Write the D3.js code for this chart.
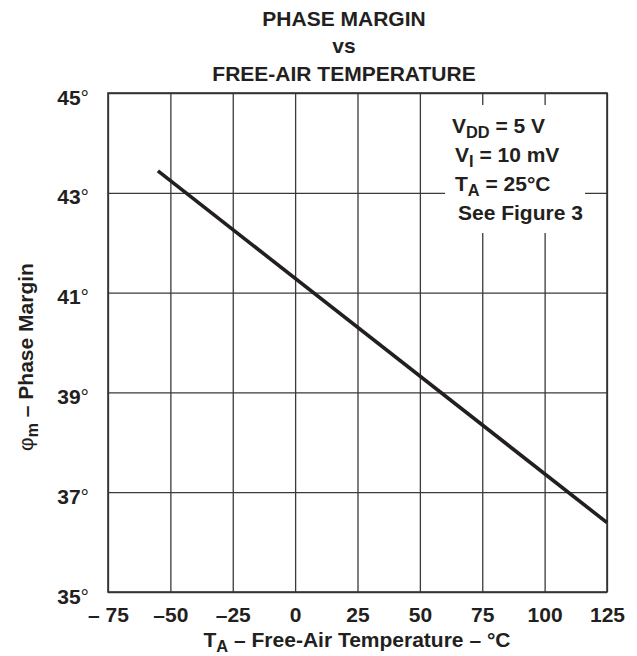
<!DOCTYPE html>
<html>
<head>
<meta charset="utf-8">
<script src="https://cdn.jsdelivr.net/npm/d3@7"></script>
<style>
  body { margin: 0; background: #fff; }
  svg { display: block; font-family: "Liberation Sans", Arial, sans-serif; font-weight: bold; }
</style>
</head>
<body>
<svg></svg>
<script>
// curve (linear, -55 .. 125 degC)
let temps = [-55, 125]
let phase = [43.44, 36.39]

let xTicks = [-75, -50, -25, 0, 25, 50, 75, 100, 125]
let xTickLabels = ["\u2013 75", "\u201350", "\u201325", "0", "25", "50", "75", "100", "125"]
let yTicks = [35, 37, 39, 41, 43, 45]

let width = 637
let height = 656
let plotLeft = 108, plotRight = 607, plotTop = 93, plotBottom = 592
let ink = "#231f20"
let fs = 21

let svg = d3.select("svg").attr("width", width).attr("height", height)

let xScale = d3.scaleLinear().domain([-75, 125]).range([plotLeft, plotRight])
let yScale = d3.scaleLinear().domain([35, 45]).range([plotBottom, plotTop])

// gridlines through the axes
let xAxis = d3.axisBottom(xScale)
              .tickValues(xTicks)
              .tickSize(-(plotBottom - plotTop))
              .tickFormat((d, i) => xTickLabels[i])
let gx = svg.append("g")
            .attr("transform", "translate(0," + plotBottom + ")")
            .call(xAxis)
gx.select(".domain").remove()
gx.selectAll("line").attr("stroke", "#3a3a3a").attr("stroke-width", 1.3)
gx.selectAll("text")
  .attr("y", 30)
  .attr("dy", 0)
  .attr("fill", ink)
  .style("font-size", fs + "px")
  .style("font-family", "'Liberation Sans', Arial, sans-serif")
  .style("font-weight", "bold")

let yAxis = d3.axisLeft(yScale)
              .tickValues(yTicks)
              .tickSize(-(plotRight - plotLeft))
              .tickFormat(d => d)
let gy = svg.append("g")
            .attr("transform", "translate(" + plotLeft + ",0)")
            .call(yAxis)
gy.select(".domain").remove()
gy.selectAll("line").attr("stroke", "#3a3a3a").attr("stroke-width", 1.3)
gy.selectAll("text")
  .attr("x", -19)
  .attr("y", 11)
  .attr("dy", 0)
  .attr("fill", ink)
  .style("font-size", fs + "px")
  .style("font-family", "'Liberation Sans', Arial, sans-serif")
  .style("font-weight", "bold")
  .each(function (d) {
    d3.select(this).append("tspan")
      .style("font-weight", "normal")
      .text("\u00b0")
  })

// legend box hides the grid behind it
svg.append("rect")
   .attr("x", 445).attr("y", 105)
   .attr("width", 140).attr("height", 128)
   .attr("fill", "#fff")

// frame
svg.append("rect")
   .attr("x", plotLeft).attr("y", plotTop)
   .attr("width", plotRight - plotLeft).attr("height", plotBottom - plotTop)
   .attr("fill", "none")
   .attr("stroke", "#333")
   .attr("stroke-width", 1.6)

// curve
let line = d3.line()
             .x((d, i) => xScale(temps[i]))
             .y(d => yScale(d))
svg.append("path")
   .datum(phase)
   .attr("d", line)
   .attr("fill", "none")
   .attr("stroke", ink)
   .attr("stroke-width", 3.6)

// title
let titleLines = ["PHASE MARGIN", "vs", "FREE-AIR TEMPERATURE"]
svg.selectAll(".title")
   .data(titleLines)
   .enter()
   .append("text")
   .attr("class", "title")
   .attr("x", 344)
   .attr("y", (d, i) => [26, 53, 81][i])
   .attr("text-anchor", "middle")
   .attr("fill", ink)
   .style("font-size", fs + "px")
   .text(d => d)

// helper for text with a subscript
let subText = (g, x, y, main, sub, rest, size) => {
  let t = g.append("text")
           .attr("x", x).attr("y", y)
           .attr("fill", ink)
           .style("font-size", size + "px")
  t.append("tspan").text(main)
  t.append("tspan").attr("dy", 5).style("font-size", (size * 0.78) + "px").text(sub)
  t.append("tspan").attr("dy", -5).text(rest)
  return t
}

subText(svg, 452, 133, "V", "DD", " = 5 V", fs)
subText(svg, 455, 162, "V", "I", " = 10 mV", fs)
subText(svg, 455, 191, "T", "A", " = 25\u00b0C", fs)
svg.append("text")
   .attr("x", 458).attr("y", 220)
   .attr("fill", ink)
   .style("font-size", fs + "px")
   .text("See Figure 3")

// axis titles
subText(svg, 357, 647, "T", "A", " \u2013 Free-Air Temperature \u2013 \u00b0C", fs)
  .attr("text-anchor", "middle")

let yt = svg.append("text")
            .attr("transform", "translate(33,357) rotate(-90)")
            .attr("text-anchor", "middle")
            .attr("fill", ink)
            .style("font-size", fs + "px")
yt.append("tspan").style("font-weight", "normal").text("\u03c6")
yt.append("tspan").attr("dy", 5).style("font-size", "16px").text("m")
yt.append("tspan").attr("dy", -5).text(" \u2013 Phase Margin")
</script>
</body>
</html>
